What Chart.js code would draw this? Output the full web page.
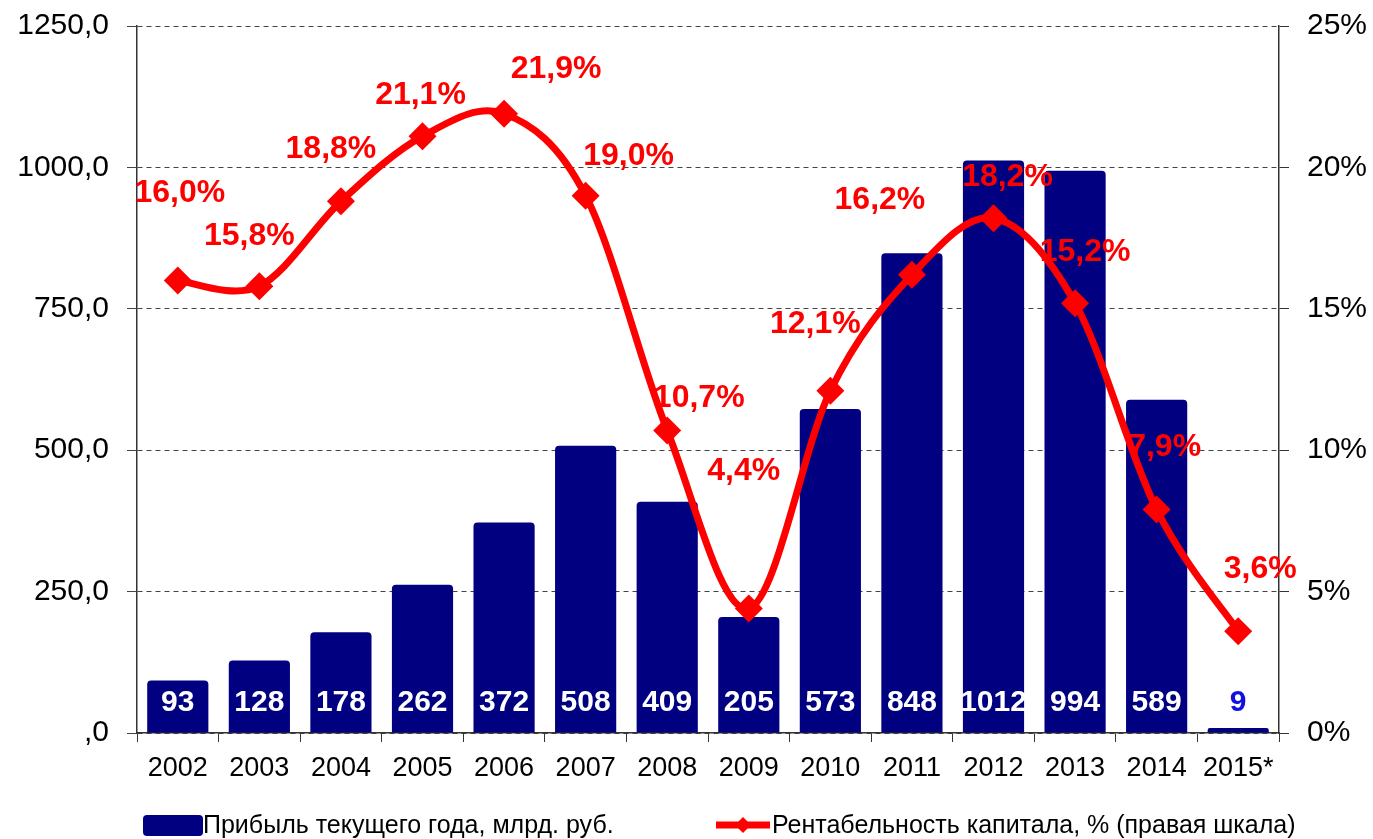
<!DOCTYPE html>
<html>
<head>
<meta charset="utf-8">
<script src="https://cdn.jsdelivr.net/npm/chart.js@4"></script>
<style>
  html, body { margin: 0; padding: 0; background: #fff; }
  #wrap { width: 1373px; height: 839px; }
</style>
</head>
<body>
<div id="wrap"><canvas id="chart" width="1373" height="839"></canvas></div>
<script>
const years = ["2002", "2003", "2004", "2005", "2006", "2007", "2008", "2009", "2010", "2011", "2012", "2013", "2014", "2015*"];
const profit = [93, 128, 178, 262, 372, 508, 409, 205, 573, 848, 1012, 994, 589, 9];
const roe = [16.0, 15.8, 18.8, 21.1, 21.9, 19.0, 10.7, 4.4, 12.1, 16.2, 18.2, 15.2, 7.9, 3.6];

const profitLabel = "Прибыль текущего года, млрд. руб.";
const roeLabel = "Рентабельность капитала, % (правая шкала)";

// where each % label sits relative to its point (px)
const roeLabelNudge = [
  [2, -87], [-10, -50], [-10, -52], [-2, -41], [52, -44], [43, -40], [32, -32],
  [-5, -137], [-15, -67], [-32, -75], [14, -41], [10, -51], [8, -62], [22, -62],
];

const NAVY = "#000080";
const RED = "#ff0000";
const FONT = "'Liberation Sans', Arial, sans-serif";

const fmtComma = (v, digits) => {
  const s = v.toFixed(digits).replace(".", ",");
  return s.startsWith("0,") ? s.slice(1) : s;
};

// Excel-style smoothing: control points at 1/6 of neighbour span
const excelSmoothPlugin = {
  id: "excelSmooth",
  beforeDatasetDraw(chart, args) {
    const meta = chart.getDatasetMeta(args.index);
    if (meta.type !== "line") return;
    meta.dataset.updateControlPoints(chart.chartArea, "x");
    const pts = meta.data;
    pts.forEach((p, i) => {
      const prev = pts[i - 1] || p;
      const next = pts[i + 1] || p;
      const dx = (next.x - prev.x) / 6;
      const dy = (next.y - prev.y) / 6;
      p.cp1x = p.x - dx;
      p.cp1y = p.y - dy;
      p.cp2x = p.x + dx;
      p.cp2y = p.y + dy;
    });
  },
};

// white values inside the bars, blue above tiny ones
const barLabelPlugin = {
  id: "barLabels",
  afterDatasetsDraw(chart) {
    const { ctx, scales } = chart;
    const meta = chart.getDatasetMeta(0);
    const y = scales.y.getPixelForValue(0) - 30;
    ctx.save();
    ctx.font = "bold 30px " + FONT;
    ctx.textAlign = "center";
    ctx.textBaseline = "middle";
    meta.data.forEach((bar, i) => {
      ctx.fillStyle = profit[i] < 50 ? "#1010e0" : "#ffffff";
      ctx.fillText(String(profit[i]), bar.x, y);
    });
    ctx.restore();
  },
};

const roeLabelPlugin = {
  id: "roeLabels",
  afterDatasetsDraw(chart) {
    const { ctx } = chart;
    const meta = chart.getDatasetMeta(1);
    ctx.save();
    ctx.font = "bold 32px " + FONT;
    ctx.fillStyle = RED;
    ctx.textAlign = "center";
    ctx.textBaseline = "middle";
    meta.data.forEach((pt, i) => {
      const [dx, dy] = roeLabelNudge[i];
      ctx.fillText(fmtComma(roe[i], 1) + "%", pt.x + dx, pt.y + dy);
    });
    ctx.restore();
  },
};

// legend drawn at the bottom like the original
const legendPlugin = {
  id: "bottomLegend",
  afterDraw(chart) {
    const { ctx } = chart;
    const cy = 825;
    ctx.save();
    ctx.fillStyle = NAVY;
    ctx.beginPath();
    ctx.roundRect(143, cy - 10, 60, 21, 4);
    ctx.fill();

    ctx.strokeStyle = RED;
    ctx.lineWidth = 7;
    ctx.beginPath();
    ctx.moveTo(716, cy);
    ctx.lineTo(770, cy);
    ctx.stroke();
    ctx.fillStyle = RED;
    ctx.beginPath();
    ctx.moveTo(743, cy - 8);
    ctx.lineTo(751, cy);
    ctx.lineTo(743, cy + 8);
    ctx.lineTo(735, cy);
    ctx.closePath();
    ctx.fill();

    ctx.fillStyle = "#000";
    ctx.font = "25px " + FONT;
    ctx.textAlign = "left";
    ctx.textBaseline = "middle";
    ctx.fillText(profitLabel, 203, cy + 1);
    ctx.fillText(roeLabel, 772, cy + 1);
    ctx.restore();
  },
};

new Chart(document.getElementById("chart"), {
  data: {
    labels: years,
    datasets: [
      {
        type: "bar",
        label: profitLabel,
        data: profit,
        backgroundColor: NAVY,
        borderRadius: { topLeft: 4, topRight: 4 },
        borderSkipped: "bottom",
        categoryPercentage: 0.75,
        barPercentage: 1,
        yAxisID: "y",
        order: 2,
      },
      {
        type: "line",
        label: roeLabel,
        data: roe,
        borderColor: RED,
        backgroundColor: RED,
        borderWidth: 7,
        tension: 0.4,
        pointStyle: "rectRot",
        pointRadius: 14,
        pointBackgroundColor: RED,
        pointBorderWidth: 0,
        yAxisID: "y2",
        order: 1,
      },
    ],
  },
  plugins: [excelSmoothPlugin, barLabelPlugin, roeLabelPlugin, legendPlugin],
  options: {
    responsive: false,
    animation: false,
    layout: { padding: { top: 26, left: 0, right: 0, bottom: 0 } },
    plugins: { legend: { display: false }, tooltip: { enabled: false } },
    scales: {
      x: {
        offset: true,
        grid: {
          offset: true,
          drawOnChartArea: false,
          color: "#333",
          tickLength: 9,
        },
        border: { color: "#333", width: 1.5 },
        ticks: { color: "#000", font: { family: FONT, size: 27 }, padding: 10, maxRotation: 0, autoSkip: false },
        afterFit(s) { s.height = 106; },
      },
      y: {
        position: "left",
        min: 0,
        max: 1250,
        grid: {
          color: "#444",
          tickBorderDash: [],
          tickLength: 10,
          lineWidth: 1,
        },
        border: { color: "#333", width: 1.5, dash: [5, 4] },
        ticks: {
          stepSize: 250,
          color: "#000",
          padding: 18,
          font: { family: FONT, size: 30 },
          callback: (v) => fmtComma(v, 1),
        },
        afterFit(s) { s.width = 137; s.paddingTop = 0; s.paddingBottom = 0; },
      },
      y2: {
        position: "right",
        min: 0,
        max: 25,
        grid: { drawOnChartArea: false, color: "#333", tickLength: 10 },
        border: { color: "#333", width: 1.5 },
        ticks: {
          stepSize: 5,
          color: "#000",
          padding: 18,
          font: { family: FONT, size: 30 },
          callback: (v) => v + "%",
        },
        afterFit(s) { s.width = 94; s.paddingTop = 0; s.paddingBottom = 0; },
      },
    },
  },
});
</script>
</body>
</html>
